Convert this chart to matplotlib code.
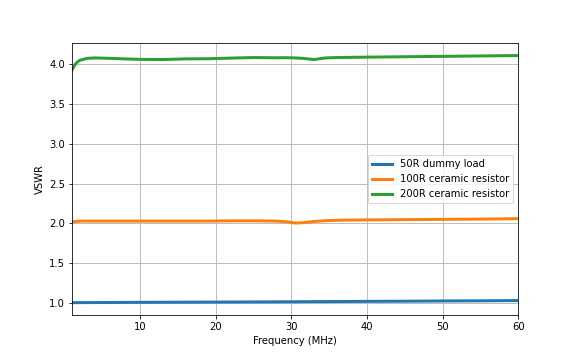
import matplotlib
matplotlib.use("Agg")
import matplotlib.pyplot as plt

freq = [1, 1.5, 2, 3, 4, 6, 8, 10, 13, 16, 19, 22, 25, 28, 29.5, 30.5, 31.5, 33, 34.5, 36, 40, 45, 50, 55, 60]
vswr_50 = [1.005, 1.005, 1.005, 1.006, 1.006, 1.007, 1.008, 1.009, 1.010, 1.011, 1.012, 1.013, 1.014, 1.015, 1.016, 1.016, 1.017, 1.018, 1.018, 1.019, 1.021, 1.023, 1.026, 1.028, 1.031]
vswr_100 = [2.02, 2.025, 2.03, 2.03, 2.03, 2.03, 2.03, 2.03, 2.03, 2.03, 2.03, 2.033, 2.033, 2.03, 2.02, 2.005, 2.01, 2.025, 2.035, 2.04, 2.045, 2.048, 2.052, 2.055, 2.06]
vswr_200 = [3.93, 4.01, 4.05, 4.075, 4.08, 4.075, 4.068, 4.062, 4.06, 4.068, 4.07, 4.078, 4.085, 4.082, 4.083, 4.08, 4.075, 4.06, 4.08, 4.085, 4.09, 4.095, 4.10, 4.105, 4.11]

fig, ax = plt.subplots(figsize=(8, 5), dpi=72)
fig.subplots_adjust(bottom=0.125)
ax.plot(freq, vswr_50, linewidth=3, label="50R dummy load")
ax.plot(freq, vswr_100, linewidth=3, label="100R ceramic resistor")
ax.plot(freq, vswr_200, linewidth=3, label="200R ceramic resistor")
ax.set_xlim(1, 60)
ax.set_xlabel("Frequency (MHz)")
ax.set_ylabel("VSWR")
ax.grid(True)
ax.legend(loc="center right")
plt.savefig("out.png")
